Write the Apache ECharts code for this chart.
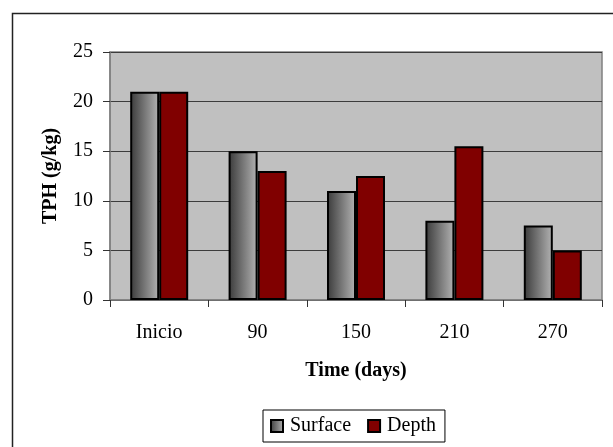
<!DOCTYPE html>
<html>
<head>
<meta charset="utf-8">
<script src="https://cdn.jsdelivr.net/npm/echarts@6/dist/echarts.min.js"></script>
<style>
html,body{margin:0;padding:0;background:#fff;}
#chart{width:613px;height:447px;}
</style>
</head>
<body>
<div id="chart"></div>
<script>
const categories = ['Inicio', '90', '150', '210', '270'];
const surfaceValues = [21, 15, 11, 8, 7.5];
const depthValues = [21, 13, 12.5, 15.5, 5];
const seriesNames = ['Surface', 'Depth'];
const yAxisTitle = 'TPH (g/kg)';
const xAxisTitle = 'Time (days)';

const FONT = "'Liberation Serif', 'Times New Roman', serif";
const chart = echarts.init(document.getElementById('chart'), null, {renderer: 'canvas'});

const surfaceGradient = new echarts.graphic.LinearGradient(0, 0, 1, 0, [
  {offset: 0, color: '#3a3a3a'},
  {offset: 1, color: '#b4b4b4'}
]);

chart.setOption({
  animation: false,
  backgroundColor: '#ffffff',
  textStyle: {fontFamily: FONT, color: '#000'},
  graphic: [{
    type: 'rect',
    left: 10, top: 11,
    shape: {width: 700, height: 500},
    style: {fill: 'none', stroke: '#222', lineWidth: 1.5},
    silent: true,
    z: -10
  }],
  grid: {
    left: 110, right: 11, top: 52, bottom: 147,
    show: true,
    backgroundColor: '#c0c0c0',
    borderColor: '#808080',
    borderWidth: 1.5
  },
  legend: {
    left: 263, top: 410,
    padding: [6, 9, 6, 7],
    borderColor: '#000',
    borderWidth: 1,
    itemWidth: 12, itemHeight: 12,
    itemGap: 16,
    icon: 'rect',
    textStyle: {fontFamily: FONT, fontSize: 20, color: '#000', padding: [0, 0, 0, 2]},
    data: seriesNames
  },
  xAxis: {
    type: 'category',
    data: categories,
    name: xAxisTitle,
    nameLocation: 'middle',
    nameGap: 61,
    nameTextStyle: {fontFamily: FONT, fontSize: 20, fontWeight: 'bold', color: '#000'},
    axisLine: {lineStyle: {color: '#808080', width: 1.5}},
    axisTick: {show: true, length: 7, lineStyle: {color: '#333', width: 1}},
    axisLabel: {fontFamily: FONT, fontSize: 20, color: '#000', margin: 23}
  },
  yAxis: {
    type: 'value',
    min: 0, max: 25, interval: 5,
    name: yAxisTitle,
    nameLocation: 'middle',
    nameRotate: 90,
    nameGap: 49,
    nameTextStyle: {fontFamily: FONT, fontSize: 20, fontWeight: 'bold', color: '#000'},
    axisLine: {show: true, lineStyle: {color: '#808080', width: 1.5}},
    axisTick: {show: true, length: 7, lineStyle: {color: '#333', width: 1}},
    axisLabel: {fontFamily: FONT, fontSize: 20, color: '#000', margin: 17},
    splitLine: {show: true, lineStyle: {color: '#3c3c3c', width: 1}}
  },
  series: [
    {
      name: seriesNames[0],
      type: 'bar',
      data: surfaceValues,
      barWidth: 29,
      barGap: '0%',
      itemStyle: {color: surfaceGradient, borderColor: '#000', borderWidth: 2}
    },
    {
      name: seriesNames[1],
      type: 'bar',
      data: depthValues,
      barWidth: 29,
      barGap: '0%',
      itemStyle: {color: '#800000', borderColor: '#000', borderWidth: 2}
    }
  ]
});
</script>
</body>
</html>
